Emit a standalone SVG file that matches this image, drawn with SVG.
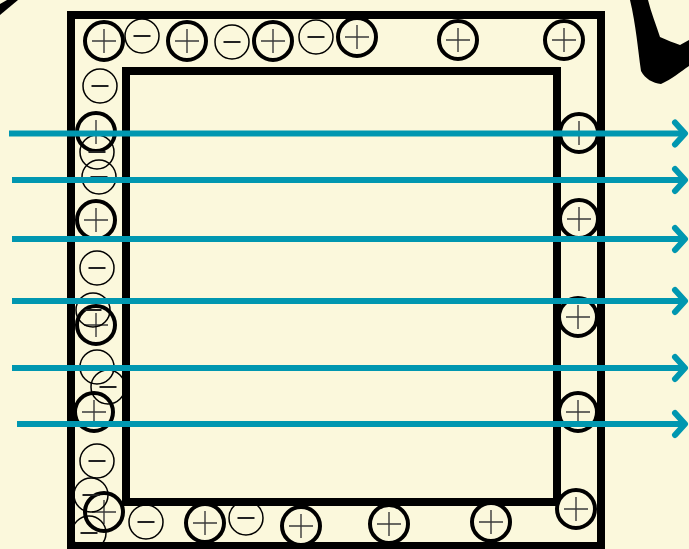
<svg xmlns="http://www.w3.org/2000/svg" xmlns:xlink="http://www.w3.org/1999/xlink" width="689" height="549" viewBox="0 0 689 549">
<style>
.frame{fill:none;stroke:#000;stroke-width:8}
.pos circle{fill:#FBF8DC;stroke:#000;stroke-width:4}
.pos path{stroke:#3a3a3a;stroke-width:1.4;fill:none}
.neg circle{fill:none;stroke:#000;stroke-width:1.5}
.neg path{stroke:#222;stroke-width:2;fill:none}
.field{stroke:#0097B0;stroke-width:6;fill:none;marker-end:url(#head)}
</style>
<defs>
<g id="p" class="pos"><circle r="19"/><path d="M-12,0H12M0,-12V12"/></g>
<g id="n" class="neg"><circle r="17"/><path d="M-8.5,0H8.5"/></g>
<marker id="head" markerUnits="userSpaceOnUse" viewBox="-14 -15 20 30" markerWidth="20" markerHeight="30" refX="0" refY="0" orient="auto" overflow="visible">
<path d="M-10,-11L0,0L-10,11" fill="none" stroke="#0097B0" stroke-width="6" stroke-linecap="round" stroke-linejoin="round"/>
</marker>
</defs>
<rect width="689" height="549" fill="#FBF8DC"/>
<g id="brush-left"><path d="M0,4L7,0L18,0L0,15Z" fill="#000"/></g>
<g id="brush-right"><path d="M630,0L648,0C651,12 656,25 660,37C667,40 674,43 680,45L689,40L689,66C680,72 672,79 661,84C653,83 645,79 641,71C638,50 636,25 630,0Z" fill="#000"/></g>
<g id="plates">
<rect id="outer" class="frame" x="71" y="15" width="530" height="531"/>
<rect id="inner" class="frame" x="126" y="71" width="431" height="431"/>
</g>
<g id="positive-charges">
<use href="#p" x="104" y="41"/><use href="#p" x="187" y="41"/><use href="#p" x="273" y="41"/><use href="#p" x="357" y="37"/><use href="#p" x="458" y="40"/><use href="#p" x="564" y="40"/>
<use href="#p" x="96" y="132"/><use href="#p" x="96" y="220"/><use href="#p" x="96" y="325"/><use href="#p" x="94" y="412"/><use href="#p" x="104" y="512"/>
<use href="#p" x="205" y="523"/><use href="#p" x="301" y="526"/><use href="#p" x="389" y="524"/><use href="#p" x="491" y="522"/><use href="#p" x="576" y="509"/>
<use href="#p" x="579" y="133"/><use href="#p" x="579" y="219"/><use href="#p" x="578" y="317"/><use href="#p" x="578" y="412"/>
</g>
<g id="negative-charges">
<use href="#n" x="142" y="36"/><use href="#n" x="232" y="42"/><use href="#n" x="316" y="37"/>
<use href="#n" x="100" y="86"/><use href="#n" x="97" y="152"/><use href="#n" x="99" y="177"/><use href="#n" x="97" y="268"/><use href="#n" x="93" y="310"/><use href="#n" x="97" y="367"/><use href="#n" x="108" y="387"/><use href="#n" x="97" y="461"/><use href="#n" x="91" y="495"/><use href="#n" x="89" y="533"/>
<use href="#n" x="146" y="522"/><use href="#n" x="246" y="518"/>
</g>
<g id="connectors">
<path class="field" d="M9,133.5H685"/>
<path class="field" d="M12,180H685"/>
<path class="field" d="M12,239H685"/>
<path class="field" d="M12,301H685"/>
<path class="field" d="M12,368H685"/>
<path class="field" d="M17,424H685"/>
</g>
</svg>
